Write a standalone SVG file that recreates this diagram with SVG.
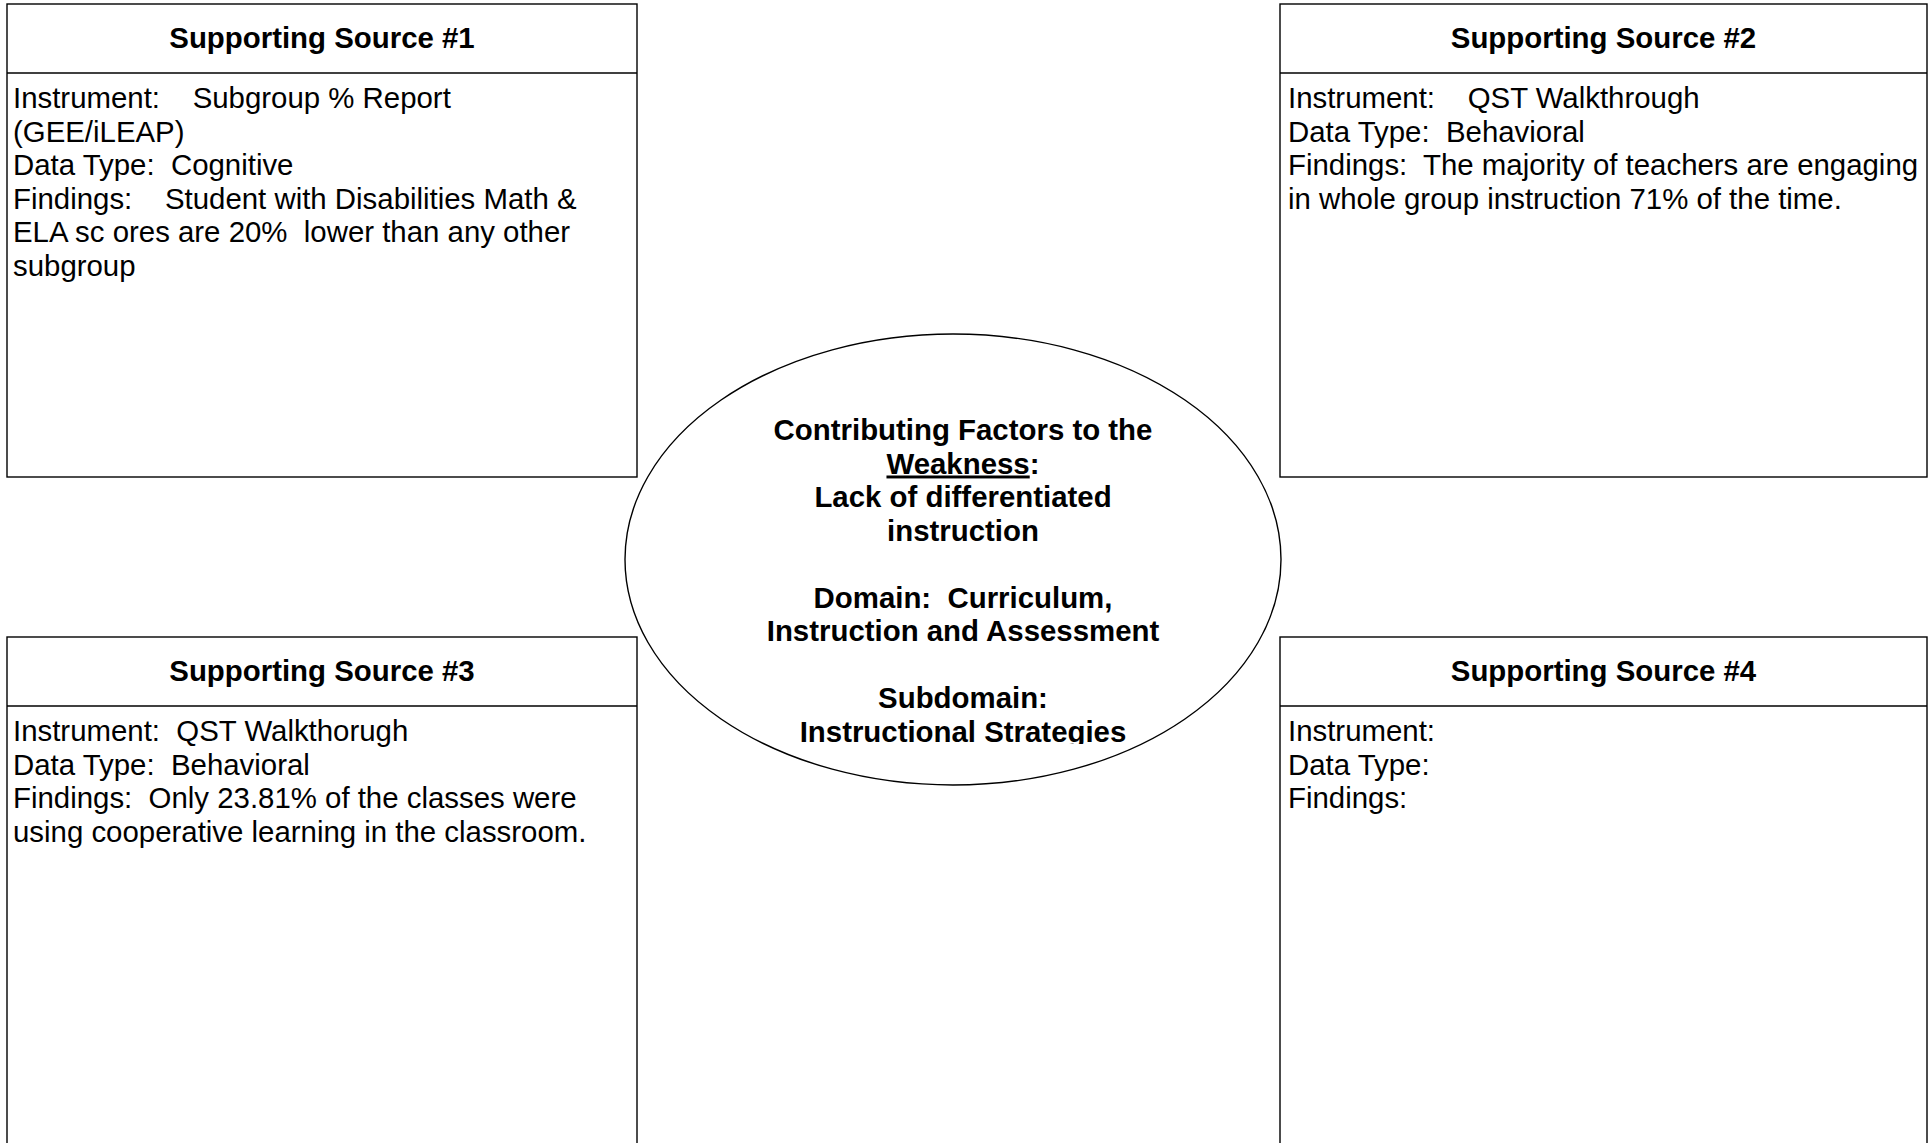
<svg xmlns="http://www.w3.org/2000/svg" width="1932" height="1143" viewBox="0 0 1932 1143">
<style>
.box{fill:#fff;stroke:#000;stroke-width:1.4}
.t{font-family:"Liberation Sans",Arial,sans-serif;font-size:29.4px;fill:#000;white-space:pre}
.h{font-weight:bold;text-anchor:middle}
.c{font-weight:bold;text-anchor:middle}
</style>
<defs>
<clipPath id="ec"><rect x="600" y="330" width="700" height="414"/></clipPath>
</defs>
<rect width="1932" height="1143" fill="#fff"/>
<g id="source1">
<rect class="box" x="7" y="4" width="630" height="473"/>
<line class="box" x1="7" y1="73" x2="637" y2="73"/>
<text class="t h" x="322" y="48">Supporting Source #1</text>
<text class="t" x="13" y="108">Instrument:    Subgroup % Report</text>
<text class="t" x="13" y="141.5">(GEE/iLEAP)</text>
<text class="t" x="13" y="175">Data Type:  Cognitive</text>
<text class="t" x="13" y="208.5">Findings:    Student with Disabilities Math &amp;</text>
<text class="t" x="13" y="242">ELA sc ores are 20%  lower than any other</text>
<text class="t" x="13" y="275.5">subgroup</text>
</g>
<g id="source2">
<rect class="box" x="1280" y="4" width="647" height="473"/>
<line class="box" x1="1280" y1="73" x2="1927" y2="73"/>
<text class="t h" x="1603.5" y="48">Supporting Source #2</text>
<text class="t" x="1288" y="108">Instrument:    QST Walkthrough</text>
<text class="t" x="1288" y="141.5">Data Type:  Behavioral</text>
<text class="t" x="1288" y="175">Findings:  The majority of teachers are engaging</text>
<text class="t" x="1288" y="208.5">in whole group instruction 71% of the time.</text>
</g>
<g id="source3">
<rect class="box" x="7" y="637" width="630" height="520"/>
<line class="box" x1="7" y1="706" x2="637" y2="706"/>
<text class="t h" x="322" y="681">Supporting Source #3</text>
<text class="t" x="13" y="741">Instrument:  QST Walkthorugh</text>
<text class="t" x="13" y="774.5">Data Type:  Behavioral</text>
<text class="t" x="13" y="808">Findings:  Only 23.81% of the classes were</text>
<text class="t" x="13" y="841.5">using cooperative learning in the classroom.</text>
</g>
<g id="source4">
<rect class="box" x="1280" y="637" width="647" height="520"/>
<line class="box" x1="1280" y1="706" x2="1927" y2="706"/>
<text class="t h" x="1603.5" y="681">Supporting Source #4</text>
<text class="t" x="1288" y="741">Instrument:</text>
<text class="t" x="1288" y="774.5">Data Type:</text>
<text class="t" x="1288" y="808">Findings:</text>
</g>
<g id="factors">
<ellipse class="box" cx="953" cy="559.5" rx="328" ry="225.5"/>
<g clip-path="url(#ec)">
<text class="t c" x="963" y="440">Contributing Factors to the</text>
<text class="t c" x="963" y="473.5"><tspan text-decoration="underline">Weakness</tspan>:</text>
<text class="t c" x="963" y="507">Lack of differentiated</text>
<text class="t c" x="963" y="540.5">instruction</text>
<text class="t c" x="963" y="607.5">Domain:  Curriculum,</text>
<text class="t c" x="963" y="641">Instruction and Assessment</text>
<text class="t c" x="963" y="708">Subdomain:</text>
<text class="t c" x="963" y="741.5">Instructional Strategies</text>
</g>
</g>
<g id="connectors"/>
</svg>
